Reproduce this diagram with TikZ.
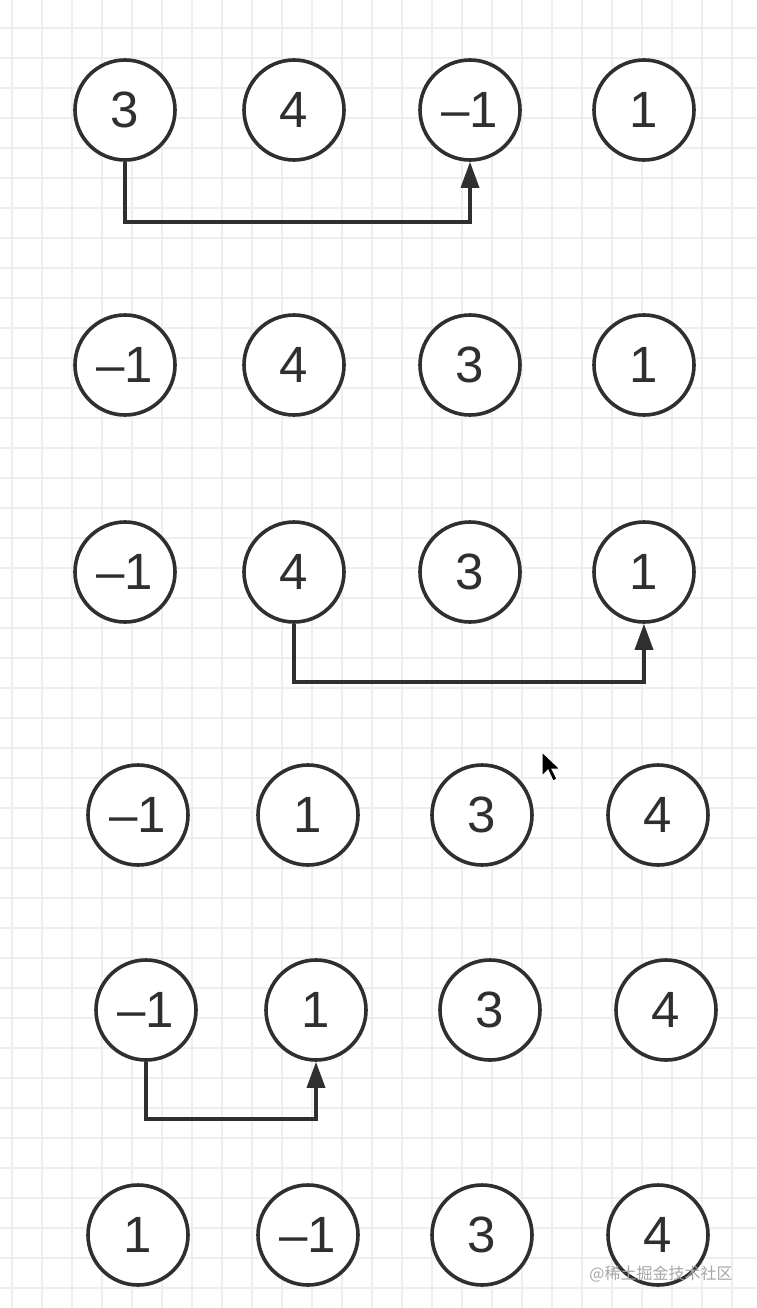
\documentclass[tikz,border=0pt]{standalone}
\usepackage{fontspec}
\setmainfont{Liberation Sans}
\newfontfamily\cjk{Noto Sans CJK SC}
\usetikzlibrary{arrows.meta}

\definecolor{gridgray}{HTML}{EEEEEE}
\definecolor{inkgray}{HTML}{2F2F2F}

\tikzset{
	num/.style={circle,draw=inkgray,line width=3.6pt,fill=white,minimum size=100pt,inner sep=0pt,
		font=\fontsize{51}{54}\selectfont,text=inkgray},
	swap/.style={draw=inkgray,line width=3.4pt,-{Triangle[length=26pt,width=18pt]}},
	gridline/.style={draw=gridgray,line width=1.3pt}
}

\begin{document}
\begin{tikzpicture}[x=1pt,y=-1pt]
		\useasboundingbox (0,0) rectangle (756,1308);
		\fill[white] (0,0) rectangle (756,1308);
		% grid paper
		\foreach \gx in {12,42,...,740} \draw[gridline] (\gx,0) -- (\gx,1308);
		\foreach \gy in {28,58,...,1300} \draw[gridline] (0,\gy) -- (756,\gy);
		% row 1
		\node[num] (a1) at (125,110) {3};
		\node[num] (a2) at (294,110) {4};
		\node[num] (a3) at (470,110) {–1};
		\node[num] (a4) at (644,110) {1};
		\draw[swap] (a1.south) |- (470,222) -- (a3.south);
		% row 2
		\node[num] (b1) at (125,365) {–1};
		\node[num] (b2) at (294,365) {4};
		\node[num] (b3) at (470,365) {3};
		\node[num] (b4) at (644,365) {1};
		% row 3
		\node[num] (c1) at (125,572) {–1};
		\node[num] (c2) at (294,572) {4};
		\node[num] (c3) at (470,572) {3};
		\node[num] (c4) at (644,572) {1};
		\draw[swap] (c2.south) |- (644,682) -- (c4.south);
		% row 4
		\node[num] (d1) at (138,815) {–1};
		\node[num] (d2) at (308,815) {1};
		\node[num] (d3) at (482,815) {3};
		\node[num] (d4) at (658,815) {4};
		% row 5
		\node[num] (e1) at (146,1010) {–1};
		\node[num] (e2) at (316,1010) {1};
		\node[num] (e3) at (490,1010) {3};
		\node[num] (e4) at (666,1010) {4};
		\draw[swap] (e1.south) |- (316,1119) -- (e2.south);
		% row 6
		\node[num] (f1) at (138,1235) {1};
		\node[num] (f2) at (308,1235) {–1};
		\node[num] (f3) at (482,1235) {3};
		\node[num] (f4) at (658,1235) {4};
		% mouse pointer
		\filldraw[fill=black,draw=white,line width=1pt] (542,752) -- (542,776) -- (548,770) -- (553,781) -- (557,779) -- (552,769) -- (560,769) -- cycle;
		% watermark
		\node[text=black!35,font=\cjk\fontsize{16}{17}\selectfont] (wm) at (661,1274) {@稀土掘金技术社区};
	\end{tikzpicture}
\end{document}
